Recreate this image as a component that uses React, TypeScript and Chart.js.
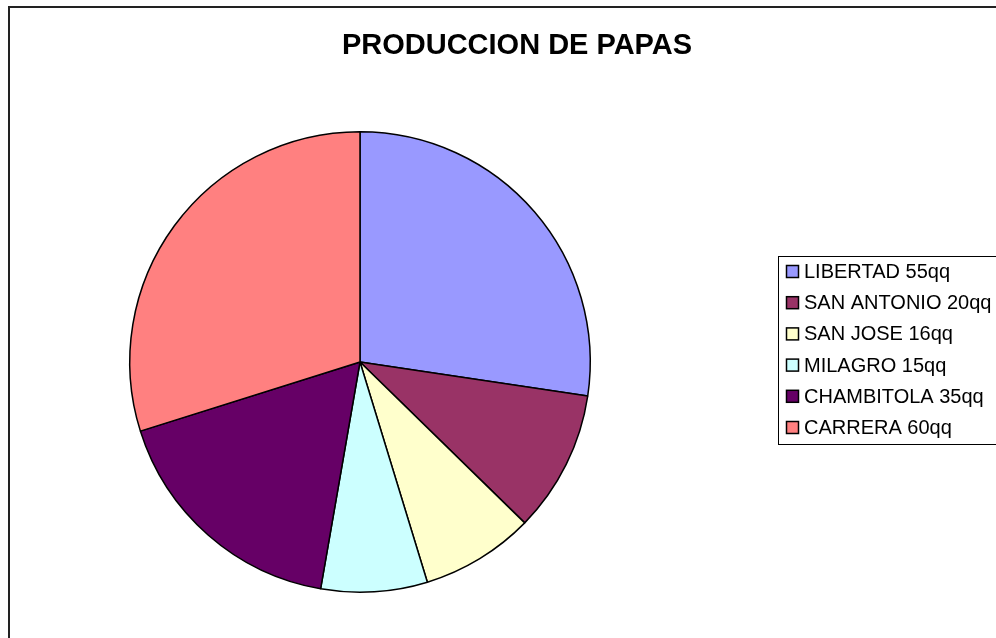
import React, { useEffect, useRef } from "react";
import { Chart, registerables } from "chart.js";

Chart.register(...registerables);

const title = "PRODUCCION DE PAPAS";
const categories = ["LIBERTAD", "SAN ANTONIO", "SAN JOSE", "MILAGRO", "CHAMBITOLA", "CARRERA"];
const values = [55, 20, 16, 15, 35, 60];
const unit = "qq";
const colors = ["#9999FF", "#993366", "#FFFFCC", "#CCFFFF", "#660066", "#FF8080"];

const W = 996;
const H = 638;

const decorPlugin = {
  id: "decor",
  afterDraw(chart: any) {
    const ctx = chart.ctx as CanvasRenderingContext2D;
    ctx.save();
    // outer chart border
    ctx.strokeStyle = "#222";
    ctx.lineWidth = 2;
    ctx.strokeRect(9, 7, W + 20, H + 20);
    // title
    ctx.fillStyle = "#000";
    ctx.font = "bold 29px 'Liberation Sans', Arial, sans-serif";
    ctx.textAlign = "center";
    ctx.textBaseline = "middle";
    ctx.fillText(title, 517, 46);
    // legend box
    const lx = 778.5, ly = 256.5, lw = 230, lh = 188;
    ctx.lineWidth = 1;
    ctx.strokeStyle = "#000";
    ctx.fillStyle = "#fff";
    ctx.fillRect(lx, ly, lw, lh);
    ctx.strokeRect(lx, ly, lw, lh);
    ctx.font = "20px 'Liberation Sans', Arial, sans-serif";
    ctx.textAlign = "left";
    ctx.textBaseline = "middle";
    categories.forEach((c, i) => {
      const cy = 271.5 + i * 31.2;
      ctx.fillStyle = colors[i];
      ctx.fillRect(786.5, cy - 6, 12, 12);
      ctx.lineWidth = 1.5;
      ctx.strokeStyle = "#000";
      ctx.strokeRect(786.5, cy - 6, 12, 12);
      ctx.fillStyle = "#000";
      ctx.fillText(`${c} ${values[i]}${unit}`, 804, cy + 1);
    });
    ctx.restore();
  },
};

export default function App() {
  const ref = useRef<HTMLCanvasElement>(null);
  useEffect(() => {
    if (!ref.current) return;
    const chart = new Chart(ref.current, {
      type: "pie",
      data: {
        labels: categories.map((c, i) => `${c} ${values[i]}${unit}`),
        datasets: [
          {
            data: values,
            backgroundColor: colors,
            borderColor: "#000",
            borderWidth: 1.5,
          },
        ],
      },
      options: {
        responsive: false,
        animation: false,
        layout: { padding: { left: 129, right: W - 591, top: 131, bottom: H - 593 } },
        plugins: {
          legend: { display: false },
          title: { display: false },
          tooltip: { enabled: false },
        },
      },
      plugins: [decorPlugin],
    });
    return () => chart.destroy();
  }, []);
  return (
    <div style={{ position: "fixed", left: 0, top: 0, width: W, height: H, background: "#fff" }}>
      <canvas ref={ref} width={W} height={H} style={{ display: "block" }} />
    </div>
  );
}
